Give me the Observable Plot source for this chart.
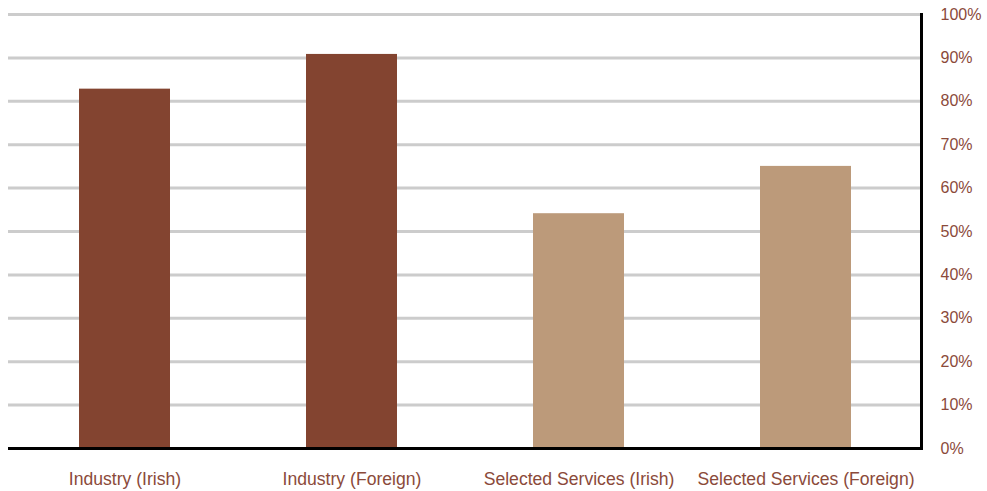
<!DOCTYPE html>
<html>
<head>
<meta charset="utf-8">
<script src="https://cdn.jsdelivr.net/npm/d3@7"></script>
<script src="https://cdn.jsdelivr.net/npm/@observablehq/plot@0.6"></script>
<style>
  html, body { margin: 0; padding: 0; background: #fff; }
  #chart svg { display: block; }
</style>
</head>
<body>
<div id="chart"></div>
<script>
const categories = ["Industry (Irish)", "Industry (Foreign)", "Selected Services (Irish)", "Selected Services (Foreign)"];
const values = [0.828, 0.908, 0.541, 0.650];
const groups = ["Industry", "Industry", "Services", "Services"];
const yTicks = [0, 0.1, 0.2, 0.3, 0.4, 0.5, 0.6, 0.7, 0.8, 0.9, 1.0];
const gridTicks = yTicks.slice(1);

const data = categories.map((c, i) => ({category: c, value: values[i], group: groups[i]}));
const labelColor = "#8B4A3A";

const chart = Plot.plot({
  width: 987,
  height: 491,
  marginLeft: 8,
  marginRight: 66,
  marginTop: 14,
  marginBottom: 43,
  style: {fontFamily: "'Liberation Sans', Arial, sans-serif", background: "#fff"},
  x: {domain: categories, range: [10, 920], paddingInner: 0.6, paddingOuter: 0.3, label: null},
  y: {domain: [0, 1], label: null},
  color: {domain: ["Industry", "Services"], range: ["#834430", "#BC9A7A"]},
  marks: [
    Plot.ruleY(gridTicks, {stroke: "#cccccc", strokeWidth: 3}),
    Plot.barY(data, {x: "category", y: "value", fill: "group"}),
    Plot.ruleY([0], {stroke: "#000", strokeWidth: 3}),
    Plot.frame({anchor: "right", stroke: "#000", strokeWidth: 3}),
    Plot.axisY({anchor: "right", ticks: yTicks, tickSize: 0, tickPadding: 19, tickFormat: d3.format(".0%"), fill: labelColor, fontSize: 16, label: null}),
    Plot.axisX({tickSize: 0, tickPadding: 24, fill: labelColor, fontSize: 17.6, label: null})
  ]
});
document.getElementById("chart").append(chart);
</script>
</body>
</html>
